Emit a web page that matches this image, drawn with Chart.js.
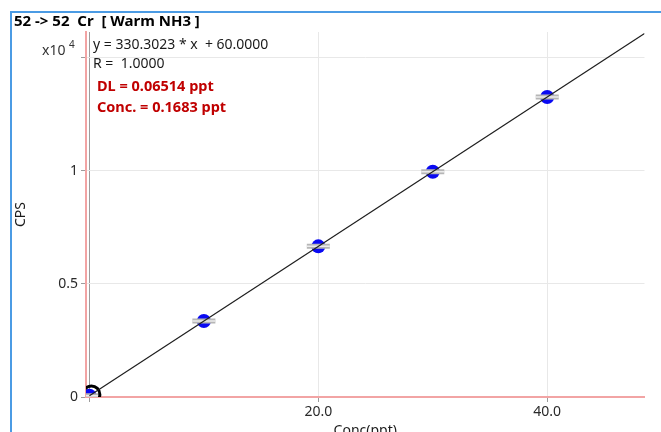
<!DOCTYPE html>
<html lang="en">

<head>
  <meta charset="UTF-8" />
  <title>52 -> 52 Cr calibration</title>
  <script src="https://cdn.jsdelivr.net/npm/chart.js"></script>
  <style>
    * {
      box-sizing: border-box;
      margin: 0;
      padding: 0;
    }

    html,
    body {
      width: 661px;
      height: 432px;
      overflow: hidden;
      background: #ffffff;
    }

    body {
      font-family: 'Noto Sans', 'Open Sans', sans-serif;
      position: relative;
    }

    /* blue frame: top and left edges only */
    .edge-top {
      position: absolute;
      left: 10px;
      top: 11px;
      width: 651px;
      height: 2px;
      background: #4b9be4;
    }

    .edge-left {
      position: absolute;
      left: 10px;
      top: 11px;
      width: 2px;
      height: 421px;
      background: #4b9be4;
    }

    .chart-box {
      position: absolute;
      left: 0;
      top: 0;
      width: 661px;
      height: 446px;
    }

    .txt {
      position: absolute;
      white-space: pre;
      line-height: 14px;
      font-size: 14px;
      color: #1a1a1a;
    }

    .head {
      left: 14px;
      top: 13px;
      font-size: 15px;
      line-height: 15px;
      font-weight: bold;
      color: #000;
    }

    .red {
      color: #c00000;
      font-weight: bold;
      font-size: 14.5px;
    }

    .expo {
      font-size: 14px;
      color: #333;
    }

    .expo sup {
      font-size: 10px;
      position: relative;
      top: -1px;
    }
  </style>
</head>

<body>
  <div class="edge-top"></div>
  <div class="edge-left"></div>
  <div class="chart-box"><canvas id="calChart"></canvas></div>

  <div class="txt head">52 -> 52  Cr  [ Warm NH3 ]</div>
  <div class="txt expo" style="left:42px; top:38px;">x10 <sup>4</sup></div>
  <div class="txt" style="left:93px; top:37px;">y = 330.3023 * x  + 60.0000</div>
  <div class="txt" style="left:93px; top:56px;">R =  1.0000</div>
  <div class="txt red" style="left:97px; top:78px;">DL = 0.06514 ppt</div>
  <div class="txt red" style="left:97px; top:99px;">Conc. = 0.1683 ppt</div>

  <script>
    // calibration standards
    const stdConc = [0, 10, 20, 30, 40];
    const stdCps = [60, 3363, 6666, 9969, 13272];

    // measured sample
    const sampleConc = [0.1683];
    const sampleCps = [116];

    // fit: y = slope * x + intercept
    const slope = 330.3023;
    const intercept = 60.0;
    const fitX = [0, 48.5];

    const xTicks = [0, 20, 40];
    const xTickLabels = ['', '20.0', '40.0'];
    const yTicks = [0, 5000, 10000, 15000];
    const yTickLabels = ['0', '0.5', '1', ''];

    const toPts = (xs, ys) => xs.map((x, i) => ({ x: x, y: ys[i] }));
    const fitPts = fitX.map(x => ({ x: x, y: slope * x + intercept }));

    const pink = '#f2a4a4';

    // first dataset is drawn on top
    const datasets = [
      {
        label: 'fit',
        data: fitPts,
        showLine: true,
        borderColor: '#1e1e1e',
        borderWidth: 1.2,
        pointRadius: 0
      },
      {
        label: 'sample',
        data: toPts(sampleConc, sampleCps),
        pointRadius: 8.5,
        pointBorderWidth: 3,
        pointBorderColor: '#000000',
        pointBackgroundColor: 'rgba(0,0,0,0)'
      },
      {
        label: 'bar-inner',
        data: toPts(stdConc, stdCps),
        pointStyle: 'line',
        pointRadius: 11.5,
        pointBorderWidth: 1.5,
        pointBorderColor: '#ececec'
      },
      {
        label: 'bar',
        data: toPts(stdConc, stdCps),
        pointStyle: 'line',
        pointRadius: 11.5,
        pointBorderWidth: 5,
        pointBorderColor: '#b6b6b6'
      },
      {
        label: 'standards',
        data: toPts(stdConc, stdCps),
        pointRadius: 7,
        pointBorderWidth: 0,
        pointBackgroundColor: '#0a0af2'
      }
    ];

    const tickFont = { family: "'Noto Sans', sans-serif", size: 14 };

    new Chart(document.getElementById('calChart'), {
      type: 'scatter',
      data: { datasets: datasets },
      options: {
        responsive: true,
        maintainAspectRatio: false,
        animation: false,
        events: [],
        layout: { padding: { top: 32, right: 14, left: 0, bottom: 0 } },
        plugins: {
          legend: { display: false },
          tooltip: { enabled: false }
        },
        scales: {
          x: {
            type: 'linear',
            min: -0.3,
            max: 48.5,
            afterBuildTicks: s => { s.ticks = xTicks.map(v => ({ value: v })); },
            afterFit: s => { s.height = 446 - 397; },
            ticks: {
              autoSkip: false,
              maxRotation: 0,
              color: '#2a2a2a',
              font: tickFont,
              padding: 2,
              callback: (v) => xTickLabels[xTicks.indexOf(v)]
            },
            grid: {
              color: c => (c.tick && c.tick.value === 0) ? '#9c9c9c' : '#e8e8e8',
              tickColor: '#9c9c9c',
              tickLength: 5
            },
            border: { color: pink, width: 2 },
            title: {
              display: true,
              text: 'Conc(ppt)',
              color: '#1a1a1a',
              font: tickFont,
              padding: { top: 0, bottom: 7 }
            }
          },
          y: {
            type: 'linear',
            min: 0,
            max: 16150,
            afterBuildTicks: s => { s.ticks = yTicks.map(v => ({ value: v })); },
            afterFit: s => { s.width = 86; },
            ticks: {
              autoSkip: false,
              color: '#2a2a2a',
              font: tickFont,
              padding: 3,
              callback: (v) => yTickLabels[yTicks.indexOf(v)]
            },
            grid: {
              color: '#e8e8e8',
              tickColor: '#9c9c9c',
              tickLength: 5
            },
            border: { color: pink, width: 2 },
            title: {
              display: true,
              text: 'CPS',
              color: '#1a1a1a',
              font: tickFont,
              padding: { top: 12.5, bottom: 0 }
            }
          }
        }
      }
    });
  </script>
</body>

</html>
